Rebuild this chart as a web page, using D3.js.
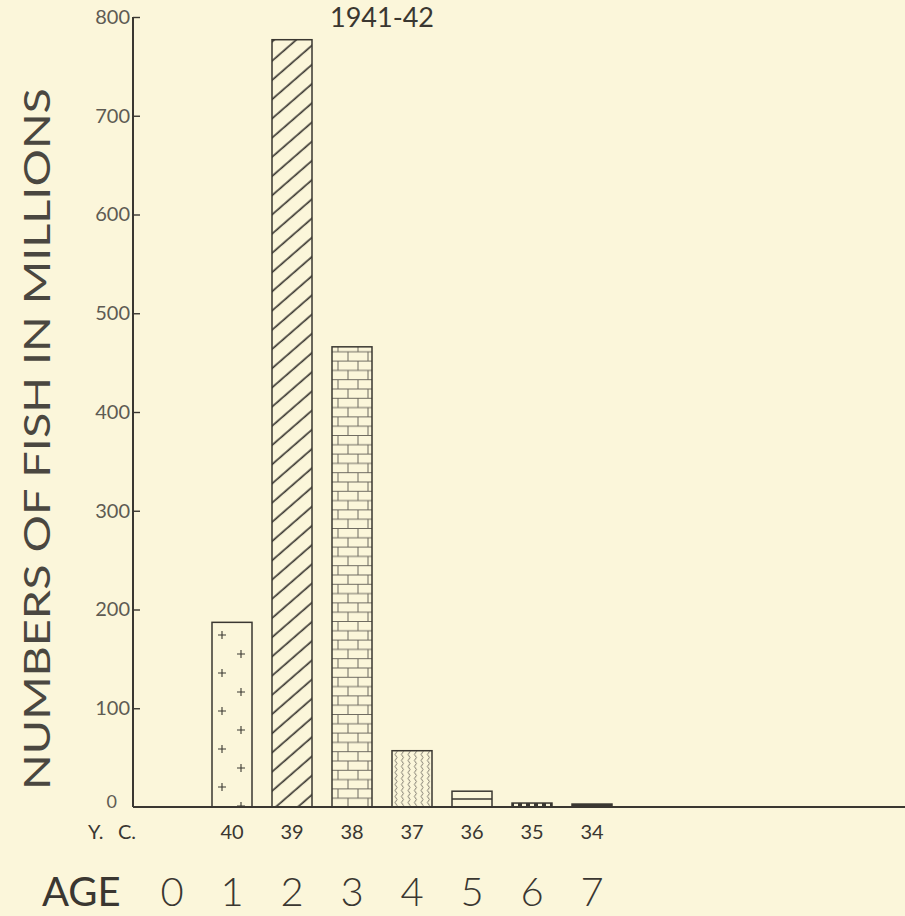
<!DOCTYPE html>
<html>
<head>
<meta charset="utf-8">
<script src="https://cdn.jsdelivr.net/npm/d3@7"></script>
<style>
  html, body { margin: 0; padding: 0; background: #fbf6da; }
  svg { display: block; }
  text { font-family: Lato, "DejaVu Sans", sans-serif; fill: #3a3731; }
  .tick-label { fill: #5e5b53; }
</style>
</head>
<body>
<svg id="chart"></svg>
<script>
// chart values
const title = '1941-42';
const ages = [1, 2, 3, 4, 5, 6, 7];
const ageLabels = [0, 1, 2, 3, 4, 5, 6, 7];
const yearClasses = ['40', '39', '38', '37', '36', '35', '34'];
const fishMillions = [187, 777, 466, 57, 16, 4, 3];
const yTicks = [0, 100, 200, 300, 400, 500, 600, 700, 800];

// bar fill styles, one per age
const barFills = ['url(#plus)', 'url(#hatch)', 'url(#brick)', 'url(#wave)', 'none', 'url(#chain)', '#3a3731'];

const INK = '#3a3731';
const BG = '#fbf6da';
const width = 905, height = 916;
const barWidth = 40;

const svg = d3.select('#chart')
    .attr('width', width)
    .attr('height', height);

svg.append('rect').attr('width', width).attr('height', height).attr('fill', BG);

// scales
const x = d3.scaleLinear().domain([0, 7]).range([172, 592]);
const y = d3.scaleLinear().domain([0, 800]).range([807, 17]);

// patterns
const defs = svg.append('defs');

// plus marks in two staggered columns
const plus = defs.append('pattern')
    .attr('id', 'plus')
    .attr('patternUnits', 'userSpaceOnUse')
    .attr('x', x(1) - barWidth / 2)
    .attr('y', 768)
    .attr('width', barWidth)
    .attr('height', 38);
[[10, 19], [29, 0], [29, 38]].forEach(([px, py]) => {
  plus.append('path')
      .attr('d', `M${px - 4},${py}H${px + 4}M${px},${py - 4}V${py + 4}`)
      .attr('stroke', INK)
      .attr('stroke-width', 1.1);
});

// diagonal hatching
defs.append('pattern')
    .attr('id', 'hatch')
    .attr('patternUnits', 'userSpaceOnUse')
    .attr('width', 20)
    .attr('height', 14.5)
    .attr('patternTransform', 'rotate(-41)')
  .append('line')
    .attr('x1', 0).attr('x2', 20)
    .attr('y1', 7).attr('y2', 7)
    .attr('stroke', INK)
    .attr('stroke-width', 1.7);

// brick pattern
const brick = defs.append('pattern')
    .attr('id', 'brick')
    .attr('patternUnits', 'userSpaceOnUse')
    .attr('x', x(3) - barWidth / 2)
    .attr('y', 807)
    .attr('width', 20)
    .attr('height', 18.6);
brick.append('path')
    .attr('d', 'M0,0.5H20M0,9.8H20M6,0.5V9.8M16,9.8V18.6')
    .attr('stroke', '#6e6a60')
    .attr('stroke-width', 1)
    .attr('fill', 'none');

// wavy vertical lines
defs.append('pattern')
    .attr('id', 'wave')
    .attr('patternUnits', 'userSpaceOnUse')
    .attr('x', x(4) - barWidth / 2 + 1)
    .attr('width', 6.5)
    .attr('height', 6)
  .append('path')
    .attr('d', 'M3,0 Q5,1.5 3,3 Q1,4.5 3,6')
    .attr('stroke', '#6e6a60')
    .attr('stroke-width', 0.9)
    .attr('fill', 'none');

// small chain marks
const chain = defs.append('pattern')
    .attr('id', 'chain')
    .attr('patternUnits', 'userSpaceOnUse')
    .attr('x', x(6) - barWidth / 2)
    .attr('width', 8)
    .attr('height', 10);
chain.append('rect').attr('width', 8).attr('height', 10).attr('fill', INK);
chain.append('rect').attr('x', 2).attr('y', 0).attr('width', 4).attr('height', 10).attr('fill', BG);

// bars
const bars = ages.map((a, i) => ({ age: a, value: fishMillions[i], fill: barFills[i] }));

svg.selectAll('.bar')
    .data(bars)
  .join('rect')
    .attr('class', 'bar')
    .attr('x', d => x(d.age) - barWidth / 2)
    .attr('y', d => y(d.value))
    .attr('width', barWidth)
    .attr('height', d => y(0) - y(d.value))
    .attr('fill', d => d.fill)
    .attr('stroke', INK)
    .attr('stroke-width', 1.5);

// age 5 bar has a divider across its middle
const mid = bars.find(d => d.age === 5);
svg.append('line')
    .attr('x1', x(5) - barWidth / 2)
    .attr('x2', x(5) + barWidth / 2)
    .attr('y1', (y(mid.value) + y(0)) / 2)
    .attr('y2', (y(mid.value) + y(0)) / 2)
    .attr('stroke', INK)
    .attr('stroke-width', 1.5);

// y axis, ticks point inward
const yAxis = d3.axisLeft(y)
    .tickValues(yTicks)
    .tickSize(-7)
    .tickPadding(10);

const yAxisG = svg.append('g')
    .attr('transform', 'translate(133,0)')
    .call(yAxis);

yAxisG.select('.domain')
    .attr('d', `M0,${y(800)}V${y(0)}`)
    .attr('stroke', INK)
    .attr('stroke-width', 2);
yAxisG.selectAll('.tick line').attr('stroke', INK).attr('stroke-width', 1.4);
yAxisG.selectAll('.tick text')
    .attr('class', 'tick-label')
    .attr('x', -3)
    .style('font-family', 'Lato, "DejaVu Sans", sans-serif')
    .style('font-size', '20px');
yAxisG.selectAll('.tick')
    .filter(d => d === 0)
    .call(g => g.select('line').remove())
    .select('text')
    .attr('x', -16)
    .attr('dy', '0.05em')
    .style('font-size', '18px');

// baseline across the whole width
svg.append('line')
    .attr('x1', 133).attr('x2', width)
    .attr('y1', y(0)).attr('y2', y(0))
    .attr('stroke', INK)
    .attr('stroke-width', 2.2);

// axis title
svg.append('text')
    .attr('transform', `translate(50,${(y(800) + y(0)) / 2 + 27}) rotate(-90)`)
    .attr('text-anchor', 'middle')
    .attr('textLength', 702)
    .attr('lengthAdjust', 'spacingAndGlyphs')
    .style('font-size', '37px')
    .style('fill', '#4a4740')
    .text('NUMBERS OF FISH IN MILLIONS');

// title, near the top edge
svg.append('text')
    .attr('x', 382)
    .attr('y', 27)
    .attr('text-anchor', 'middle')
    .style('font-size', '27px')
    .text(title);

// year-class row
svg.append('text')
    .attr('x', 88)
    .attr('y', 839)
    .style('font-size', '20px')
    .text('Y.');
svg.append('text')
    .attr('x', 118)
    .attr('y', 839)
    .style('font-size', '20px')
    .text('C.');

svg.selectAll('.yc')
    .data(yearClasses)
  .join('text')
    .attr('class', 'yc')
    .attr('x', (d, i) => x(ages[i]))
    .attr('y', 839)
    .attr('text-anchor', 'middle')
    .style('font-size', '20px')
    .text(d => d);

// age row
svg.append('text')
    .attr('x', 42)
    .attr('y', 906)
    .style('font-size', '40px')
    .text('AGE');

svg.selectAll('.age')
    .data(ageLabels)
  .join('text')
    .attr('class', 'age')
    .attr('x', d => x(d))
    .attr('y', 906)
    .attr('text-anchor', 'middle')
    .style('font-size', '40px')
    .style('font-weight', 300)
    .text(d => d);
</script>
</body>
</html>
